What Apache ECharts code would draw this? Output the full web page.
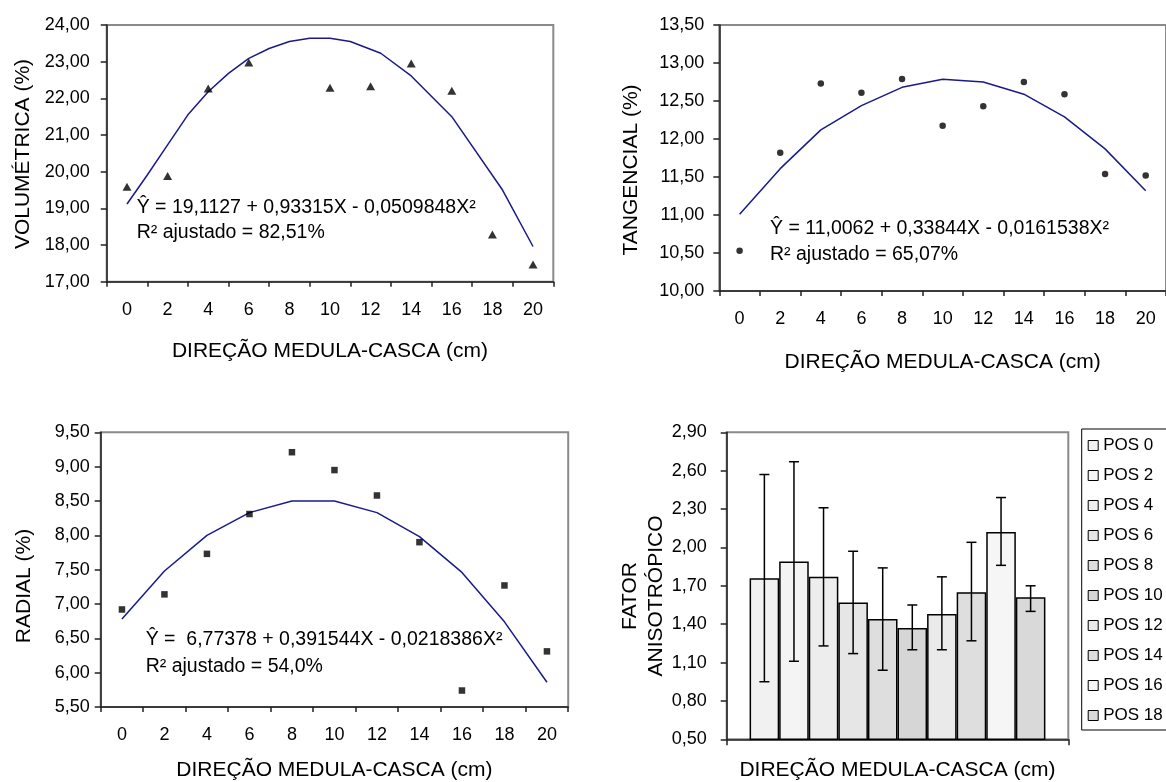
<!DOCTYPE html>
<html>
<head>
<meta charset="utf-8">
<script src="https://cdn.jsdelivr.net/npm/echarts@6/dist/echarts.min.js"></script>
<style>
html,body{margin:0;padding:0;background:#fff;}
#chart{width:1166px;height:782px;}
</style>
</head>
<body>
<div id="chart"></div>
<script>
// ---------- DATA ----------
const xLabels = ['0','2','4','6','8','10','12','14','16','18','20'];
const xPos = [0,2,4,6,8,10,12,14,16,18,20];

// Volumétrica (%) - observed points (no point at 8 cm)
const volPoints = [19.59, 19.88, 22.27, 22.98, null, 22.29, 22.33, 22.95, 22.21, 18.29, 17.47];
// fitted curve
const volCurveX = [0,1,2,3,4,5,6,7,8,9,10,11,12.5,14,16,18.5,20];
const volCurveY = [19.12,19.91,20.73,21.55,22.18,22.68,23.09,23.36,23.55,23.64,23.64,23.55,23.23,22.61,21.50,19.50,17.96];

// Tangencial (%)
const tangPoints = [10.53, 11.82, 12.73, 12.61, 12.79, 12.175, 12.43, 12.75, 12.59, 11.54, 11.52];
const tangCurve = [11.01, 11.61, 12.12, 12.44, 12.68, 12.785, 12.75, 12.59, 12.29, 11.87, 11.32];

// Radial (%)
const radPoints = [6.92, 7.14, 7.73, 8.31, 9.21, 8.95, 8.58, 7.90, 5.74, 7.27, 6.31];
const radCurve = [6.78, 7.48, 8.00, 8.33, 8.50, 8.50, 8.33, 7.98, 7.46, 6.74, 5.86];

// Fator anisotrópico
const posNames = ['POS 0','POS 2','POS 4','POS 6','POS 8','POS 10','POS 12','POS 14','POS 16','POS 18'];
const fator = [1.76, 1.89, 1.77, 1.57, 1.44, 1.37, 1.48, 1.65, 2.12, 1.61];
const fatorLow = [0.95, 1.11, 1.23, 1.17, 1.04, 1.20, 1.20, 1.27, 1.86, 1.50];
const fatorHigh = [2.57, 2.67, 2.31, 1.97, 1.84, 1.55, 1.77, 2.04, 2.39, 1.70];

// ---------- STYLE ----------
const FONT = '"Liberation Sans", Arial, sans-serif';
const barColors = ['#f1f1f1','#f4f4f4','#ededed','#e6e6e6','#dedede','#d6d6d6','#eaeaea','#dedede','#f6f6f6','#d9d9d9'];
const lineColor = '#1a1a8c';
const barCatGap = 0.134;

function fmt(v){ return v.toFixed(2).replace('.', ','); }

function gridOf(l,t,w,h){
  return {left:l, top:t, width:w, height:h, show:true, borderColor:'#8a8a8a', borderWidth:2, backgroundColor:'transparent', containLabel:false};
}
function catAxis(g, data, margin, nameGap, showLabel){
  return {
    type:'category', gridIndex:g, data:data, boundaryGap:true,
    axisLine:{show:true, onZero:false, lineStyle:{color:'#222', width:1.5}},
    axisTick:{show:true, length:5, interval:0, lineStyle:{color:'#222', width:1.5}},
    axisLabel:{show:showLabel, interval:0, margin:margin, fontSize:18, color:'#000', fontFamily:FONT},
    splitLine:{show:false},
    name:'DIREÇÃO MEDULA-CASCA (cm)', nameLocation:'middle', nameGap:nameGap,
    nameTextStyle:{fontSize:21, color:'#000', fontFamily:FONT}
  };
}
function valX(g){ return {type:'value', gridIndex:g, min:-1, max:21, show:false, axisLine:{onZero:false}}; }
function yAx(g, min, max, interval, margin){
  return {
    type:'value', gridIndex:g, min:min, max:max, interval:interval,
    axisLine:{show:true, onZero:false, lineStyle:{color:'#222', width:1.5}},
    axisTick:{show:true, length:6, lineStyle:{color:'#222', width:1.5}},
    axisLabel:{margin:margin, fontSize:18, color:'#000', fontFamily:FONT, formatter:fmt},
    splitLine:{show:false}
  };
}
function pts(vals){
  const out = [];
  vals.forEach((v,i)=>{ if(v!=null) out.push([xPos[i], v]); });
  return out;
}

const series = [
  {type:'scatter', xAxisIndex:1, yAxisIndex:0, symbol:'triangle', symbolSize:[9,8], itemStyle:{color:'#000'}, data:pts(volPoints), z:3},
  {type:'line', xAxisIndex:1, yAxisIndex:0, showSymbol:false, lineStyle:{color:lineColor, width:1.5}, data:volCurveX.map((x,i)=>[x, volCurveY[i]]), z:2},
  {type:'scatter', xAxisIndex:3, yAxisIndex:1, symbol:'circle', symbolSize:6.5, itemStyle:{color:'#000'}, data:pts(tangPoints), z:3},
  {type:'line', xAxisIndex:3, yAxisIndex:1, showSymbol:false, lineStyle:{color:lineColor, width:1.5}, data:pts(tangCurve), z:2},
  {type:'scatter', xAxisIndex:5, yAxisIndex:2, symbol:'rect', symbolSize:6.5, itemStyle:{color:'#000'}, data:pts(radPoints), z:3},
  {type:'line', xAxisIndex:5, yAxisIndex:2, showSymbol:false, lineStyle:{color:lineColor, width:1.5}, data:pts(radCurve), z:2}
];

posNames.forEach((n,i)=>{
  series.push({
    type:'bar', name:n, xAxisIndex:6, yAxisIndex:3, data:[fator[i]],
    barGap:'0%', barCategoryGap:(barCatGap*100)+'%',
    itemStyle:{color:barColors[i], borderColor:'#000', borderWidth:1.5}
  });
});

series.push({
  type:'custom', xAxisIndex:6, yAxisIndex:3, z:10,
  encode:{x:0, y:[1,2]},
  data: fatorLow.map((l,i)=>[0, l, fatorHigh[i], i]),
  renderItem:function(params, api){
    const idx = api.value(3);
    const lo = api.coord([api.value(0), api.value(1)]);
    const hi = api.coord([api.value(0), api.value(2)]);
    const catW = api.size([1,0])[0];
    const groupW = catW*(1-barCatGap);
    const bw = groupW/posNames.length;
    const x = lo[0] - groupW/2 + bw*(idx+0.5);
    const cap = 5;
    const st = {stroke:'#000', lineWidth:1.5};
    return {type:'group', children:[
      {type:'line', shape:{x1:x, y1:lo[1], x2:x, y2:hi[1]}, style:st},
      {type:'line', shape:{x1:x-cap, y1:lo[1], x2:x+cap, y2:lo[1]}, style:st},
      {type:'line', shape:{x1:x-cap, y1:hi[1], x2:x+cap, y2:hi[1]}, style:st}
    ]};
  }
});

function txt(x,y,t,size,rot,align){
  return {type:'text', x:x, y:y, rotation:rot||0, silent:true,
    style:{text:t, font:size+'px '+FONT, fill:'#000', align:align||'left', verticalAlign:'middle', textAlign:align||'left', textVerticalAlign:'middle'}};
}

const option = {
  animation:false,
  backgroundColor:'#fff',
  textStyle:{fontFamily:FONT},
  grid:[
    gridOf(106.7, 25, 446.6, 256.7),
    gridOf(719.3, 25, 456.5, 266),
    gridOf(100.7, 432.3, 467.5, 274.7),
    gridOf(726.7, 432.3, 341.6, 307)
  ],
  xAxis:[
    catAxis(0, xLabels, 19, 59, true), valX(0),
    catAxis(1, xLabels, 19, 60.5, true), valX(1),
    catAxis(2, xLabels, 19, 52.5, true), valX(2),
    Object.assign(catAxis(3, [''], 10, 20, false), {axisTick:{show:true, length:6, interval:0, lineStyle:{color:'#222', width:1.5}}})
  ],
  yAxis:[
    yAx(0, 17, 24, 1, 17),
    yAx(1, 10, 13.5, 0.5, 15),
    yAx(2, 5.5, 9.5, 0.5, 11),
    yAx(3, 0.5, 2.9, 0.3, 20)
  ],
  legend:{
    data:posNames, orient:'vertical', left:1081.7, top:429,
    icon:'rect', itemWidth:10, itemHeight:10, itemGap:13, itemTextGap:8,
    padding:[8,30,6,6], borderColor:'#000', borderWidth:1,
    textStyle:{fontSize:17, color:'#000', fontFamily:FONT, lineHeight:17},
    itemStyle:{borderColor:'#000', borderWidth:1}
  },
  graphic:[
    txt(23, 154, 'VOLUMÉTRICA (%)', 21, Math.PI/2, 'center'),
    txt(631, 170, 'TANGENCIAL (%)', 21, Math.PI/2, 'center'),
    txt(24, 586, 'RADIAL (%)', 21, Math.PI/2, 'center'),
    txt(630, 596, 'FATOR', 21, Math.PI/2, 'center'),
    txt(656.7, 596, 'ANISOTRÓPICO', 21, Math.PI/2, 'center'),
    txt(136.7, 208, 'Ŷ = 19,1127 + 0,93315X - 0,0509848X²', 19.5),
    txt(136.7, 233, 'R² ajustado = 82,51%', 19.5),
    txt(770, 229, 'Ŷ = 11,0062 + 0,33844X - 0,0161538X²', 19.5),
    txt(770, 255, 'R² ajustado = 65,07%', 19.5),
    txt(145.7, 640, 'Ŷ =  6,77378 + 0,391544X - 0,0218386X²', 19.5),
    txt(145.7, 667, 'R² ajustado = 54,0%', 19.5)
  ],
  series:series
};

const chart = echarts.init(document.getElementById('chart'), null, {renderer:'canvas'});
chart.setOption(option);
</script>
</body>
</html>
